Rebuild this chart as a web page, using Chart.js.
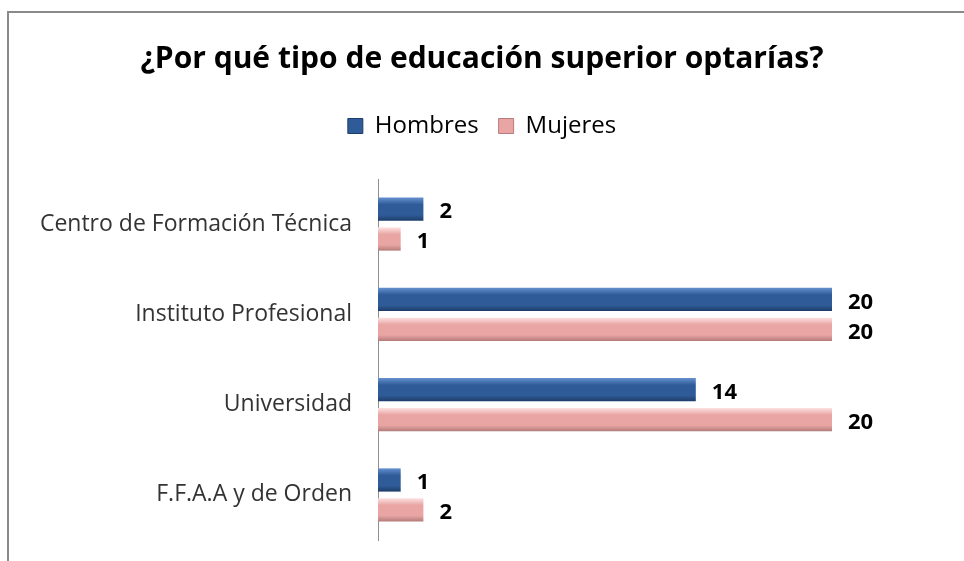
<!DOCTYPE html>
<html>
  <head>
    <meta charset="utf-8">
    <title>Educación superior</title>
    <script src="https://cdn.jsdelivr.net/npm/chart.js"></script>
    <style>
      body { margin: 0; background: #fff; }
      .marco {
        position: absolute; left: 7px; top: 11px; width: 957px; height: 550px;
        border-left: 2px solid #8a8a8a; border-top: 2px solid #8a8a8a;
        pointer-events: none;
      }
      .grafico { position: absolute; left: 0; top: 0; width: 964px; height: 561px; }
    </style>
  </head>

  <body>
    <div class="grafico">
      <canvas id="educacion" width="964" height="561"></canvas>
    </div>
    <div class="marco"></div>

    <script>
      var categorias = [
        "Centro de Formación Técnica",
        "Instituto Profesional",
        "Universidad",
        "F.F.A.A y de Orden",
      ];
      var hombres = [2, 20, 14, 1];
      var mujeres = [1, 20, 20, 2];

      var fuente = "'Open Sans', sans-serif";

      // degradado vertical para imitar el relieve de las barras
      function relleno(claro, medio, oscuro) {
        return function (context) {
          var el = context.element;
          if (!el || el.y == null || el.height == null || isNaN(el.y)) return medio;
          var c = context.chart.ctx;
          var g = c.createLinearGradient(0, el.y - el.height / 2, 0, el.y + el.height / 2);
          g.addColorStop(0, claro);
          g.addColorStop(0.3, medio);
          g.addColorStop(0.75, medio);
          g.addColorStop(1, oscuro);
          return g;
        };
      }

      var etiquetas = {
        id: "etiquetas",
        afterDatasetsDraw(chart) {
          var ctx = chart.ctx;
          ctx.save();
          ctx.font = "bold 22px " + fuente;
          ctx.fillStyle = "#000";
          ctx.textAlign = "left";
          ctx.textBaseline = "middle";
          chart.data.datasets.forEach((ds, i) => {
            chart.getDatasetMeta(i).data.forEach((bar, j) => {
              ctx.fillText(ds.data[j], bar.x + 16, bar.y + 3);
            });
          });
          ctx.restore();
        },
      };

      // espacio extra bajo la leyenda
      var espacioLeyenda = {
        id: "espacioLeyenda",
        beforeInit(chart) {
          var fit = chart.legend.fit;
          chart.legend.fit = function () {
            fit.bind(chart.legend)();
            this.height += 31;
          };
        },
      };

      var grafico = new Chart(document.getElementById("educacion").getContext("2d"), {
        type: "bar",
        data: {
          labels: categorias,
          datasets: [
            {
              label: "Hombres",
              data: hombres,
              backgroundColor: relleno("#6590cf", "#2f5b98", "#1d3c68"),
              borderWidth: 0,
            },
            {
              label: "Mujeres",
              data: mujeres,
              backgroundColor: relleno("#fde2e1", "#e8a5a4", "#b57c7a"),
              borderWidth: 0,
            },
          ],
        },
        plugins: [etiquetas, espacioLeyenda],
        options: {
          indexAxis: "y",
          responsive: false,
          animation: false,
          categoryPercentage: 0.66,
          barPercentage: 0.78,
          layout: { padding: { left: 8, right: 8, bottom: 21 } },
          plugins: {
            title: {
              display: true,
              text: "¿Por qué tipo de educación superior optarías?",
              color: "#000",
              font: { family: fuente, size: 30, weight: "bold" },
              padding: { top: 41, bottom: 17 },
            },
            legend: {
              labels: {
                color: "#222",
                font: { family: fuente, size: 24 },
                boxWidth: 15,
                boxHeight: 15,
                padding: 20,
                generateLabels(chart) {
                  return [
                    { text: "Hombres", fillStyle: "#2f5b98", strokeStyle: "#1d3c68", lineWidth: 1, datasetIndex: 0 },
                    { text: "Mujeres", fillStyle: "#e8a5a4", strokeStyle: "#b57c7a", lineWidth: 1, datasetIndex: 1 },
                  ];
                },
              },
            },
            tooltip: { enabled: false },
          },
          scales: {
            x: { display: false, min: 0, max: 20 },
            y: {
              grid: { display: false, drawTicks: false },
              border: { display: true, color: "#8f8f8f", width: 1 },
              ticks: { color: "#333", padding: 26, font: { family: fuente, size: 23 } },
              afterFit(scale) {
                scale.width = 370;
                scale.paddingTop = 0;
                scale.paddingBottom = 0;
              },
            },
            // eje vacío a la derecha: deja sitio a las etiquetas de valor
            y2: {
              type: "category",
              position: "right",
              grid: { display: false, drawTicks: false },
              border: { display: false },
              ticks: { display: false },
              afterFit(scale) {
                scale.width = 124;
                scale.paddingTop = 0;
                scale.paddingBottom = 0;
              },
            },
          },
        },
      });
      grafico.update();
    </script>
  </body>
</html>
